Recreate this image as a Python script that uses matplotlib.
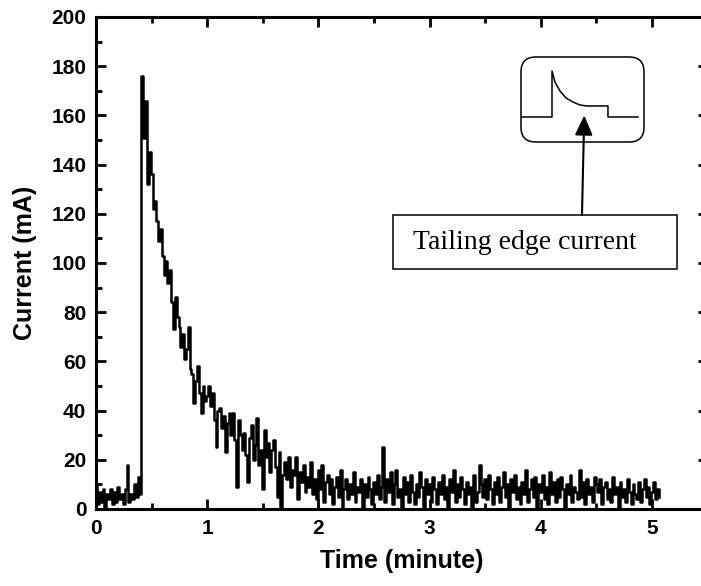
import matplotlib
matplotlib.use("Agg")
import matplotlib.pyplot as plt
import numpy as np
from matplotlib.patches import FancyBboxPatch, Rectangle
from matplotlib.ticker import MultipleLocator

plt.rcParams['font.family'] = ['Liberation Sans', 'DejaVu Sans']

# --- data: one sample per second ---
dt_min = 1.0 / 60.0
current_ma = [
    10, 2, 7, 3, 8, 1, 6, 4, 8, 2,
    7, 3, 9, 4, 6, 2, 8, 18, 3, 6,
    4, 10, 5, 13, 6,
    176, 151, 166, 132, 145,
    136, 122, 125, 117, 109, 114, 103, 95, 101, 92,
    97, 84, 73, 86, 78, 74, 66, 71, 61, 65,
    74, 57, 55, 43, 52, 58, 47, 39, 50, 44,
    46, 50, 42, 47, 36, 25, 40, 41, 33, 38,
    23, 35, 39, 30, 39, 28, 9, 36, 30, 24,
    31, 22, 11, 29, 34, 20, 26, 37, 18, 24,
    8, 32, 21, 27, 15, 24, 28, 17, 5, 23,
    0, 14, 19, 12, 21, 9, 16, 14, 21, 4,
    15, 11, 18, 7, 13, 9, 19, 6, 12, 4,
    16, 8, 18, 3, 11, 14, 6, 12, 2, 9,
    13, 5, 16, 1, 8, 12, 4, 10, 6, 15,
    3, 9, 7, 12, 1, 10, 5, 13, 8, 2,
    11, 6, 14, 4, 9, 25, 3, 12, 7, 15,
    2, 10, 16, 5, 8, 1, 13, 6, 11, 3,
    14, 7, 2, 10, 5, 15, 9, 1, 12, 6,
    10, 3, 13, 8, 2, 11, 6, 14, 4, 9,
    1, 12, 7, 16, 3, 10, 5, 13, 8, 2,
    11, 6, 9, 1, 14, 3, 7, 18, 10, 5,
    12, 4, 14, 8, 2, 11, 6, 13, 3, 9,
    15, 5, 10, 1, 12, 7, 14, 4, 9, 2,
    11, 6, 16, 3, 8, 12, 5, 13, 1, 10,
    7, 14, 4, 9, 2, 15, 6, 11, 3, 12,
    5, 13, 8, 1, 10, 6, 14, 3, 9, 7,
    4, 16, 5, 11, 2, 12, 6, 9, 3, 13,
    10, 7, 12, 2, 9, 11, 4, 8, 3, 13,
    6, 9, 1, 11, 5, 8, 3, 12, 7, 2,
    10, 6, 4, 11, 3, 8, 12, 5, 9, 2,
    7, 11, 4, 8, 5,
]
time_min = np.arange(len(current_ma)) * dt_min

# idealised pulse drawn in the inset (arbitrary units)
sketch_t = [0, 2.52, 2.52, 2.76, 3.17, 3.66, 4.23, 4.8, 5.37, 7.07, 7.07, 9.51]
sketch_i = [0, 0, 1.0, 0.76, 0.565, 0.413, 0.326, 0.26, 0.24, 0.24, 0, 0]

fig = plt.figure(figsize=(7.01, 5.86), dpi=100)
ax = fig.add_axes([0.137, 0.1314, 0.8725, 0.8396])

ax.plot(time_min, current_ma, color='black', lw=1.8, drawstyle='steps-mid')

ax.set_xlim(0, 5.5)
ax.set_ylim(0, 200)
ax.xaxis.set_major_locator(MultipleLocator(1))
ax.xaxis.set_minor_locator(MultipleLocator(0.5))
ax.yaxis.set_major_locator(MultipleLocator(20))
ax.yaxis.set_minor_locator(MultipleLocator(10))
ax.tick_params(which='both', direction='in', top=True, right=True, width=2)
ax.tick_params(which='major', length=7, labelsize=15, pad=7)
ax.tick_params(which='minor', length=4)
for lab in ax.get_xticklabels() + ax.get_yticklabels():
    lab.set_fontweight('bold')
for sp in ax.spines.values():
    sp.set_linewidth(2.2)

ax.set_xlabel('Time (minute)', fontsize=18, fontweight='bold', labelpad=8)
ax.set_ylabel('Current (mA)', fontsize=18, fontweight='bold', labelpad=10)

# text box and arrow
ax.add_patch(Rectangle((2.67, 97.6), 2.55, 21.9, fill=False, lw=1.1, ec='black'))
ax.text(3.86, 108.3, 'Tailing edge current', ha='center', va='center',
        fontsize=20, family=['Liberation Serif', 'DejaVu Serif'])
ax.annotate('', xy=(4.39, 160), xytext=(4.37, 119.5),
            arrowprops=dict(arrowstyle='-|>,head_length=0.6,head_width=0.27',
                            mutation_scale=20, lw=1.5, color='black',
                            shrinkA=0, shrinkB=0))

# inset sketch of a pulse
ins = fig.add_axes([521 / 701, 1 - 142 / 586, 123 / 701, 85 / 586])
ins.plot(sketch_t, sketch_i, color='black', lw=1.1)
ins.set_xlim(0, 10)
ins.set_ylim(-0.543, 1.304)
ins.axis('off')
ins.add_patch(FancyBboxPatch((0, 0), 1, 1, transform=ins.transAxes,
                             boxstyle='round,pad=0,rounding_size=0.12',
                             mutation_aspect=123 / 85, fill=False,
                             lw=1.1, ec='black', clip_on=False))

fig.savefig('out.png', dpi=100)
